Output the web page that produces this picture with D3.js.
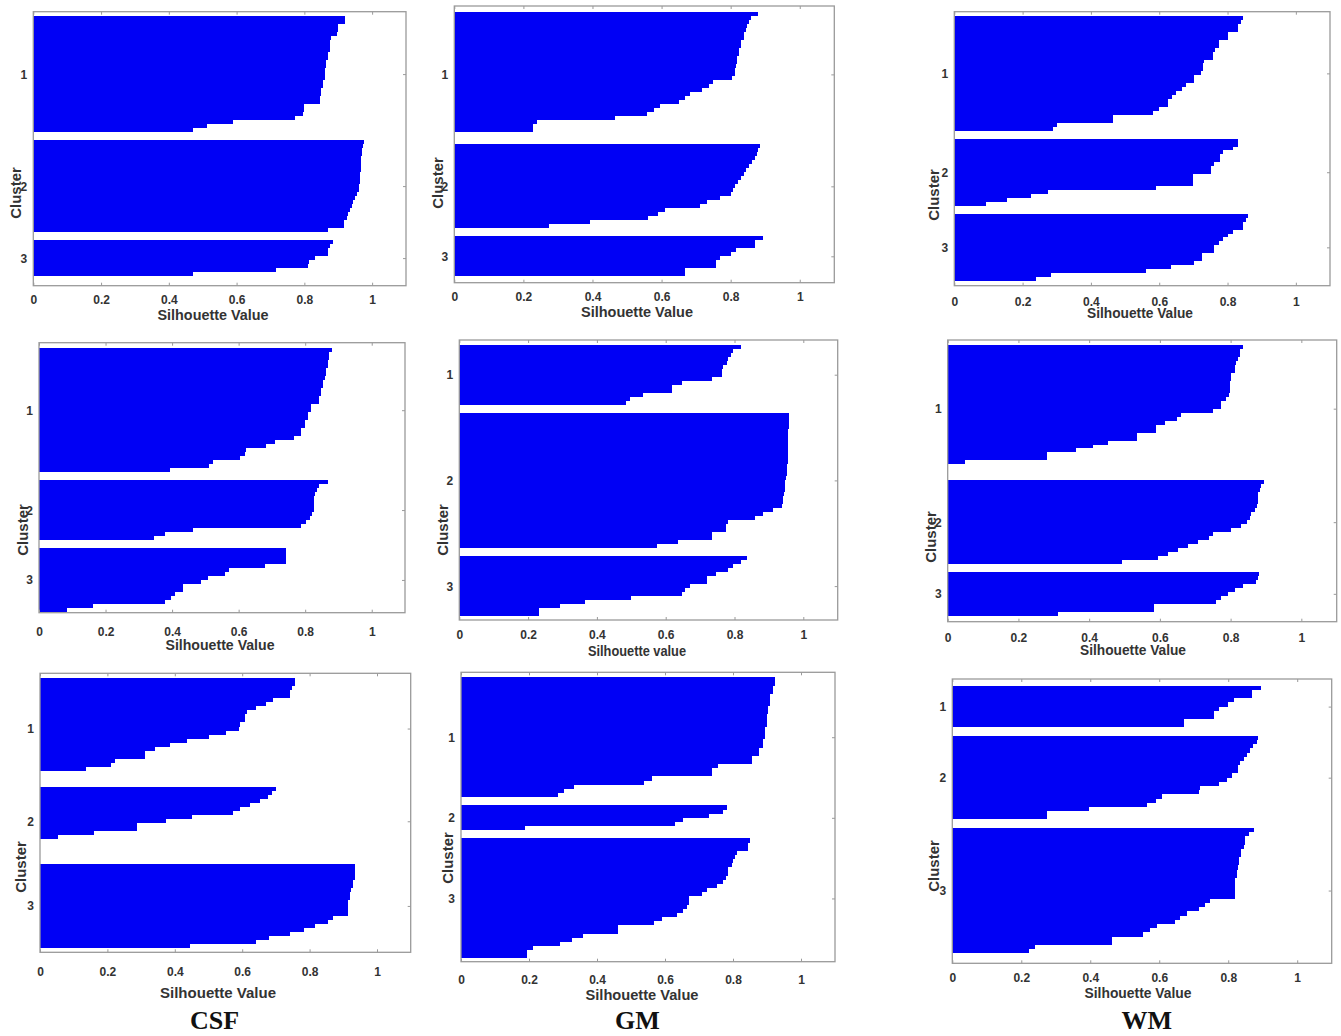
<!DOCTYPE html>
<html>
<head>
<meta charset="utf-8">
<script src="https://cdn.jsdelivr.net/npm/d3@7"></script>
<style>
  body { margin: 0; background: #fff; }
  svg { display: block; }
  text.sans { font-family: "Liberation Sans", Arial, sans-serif; }
</style>
</head>
<body>
<svg id="chart" width="1341" height="1036"></svg>
<script>
// Silhouette values, one entry per sample row, sorted within each cluster.
// Rows of 0 are samples with a near-zero silhouette (they only widen the gap).
const csfTop = [
  [0.92,0.92,0.90,0.90,0.895,0.88,0.877,0.877,0.877,0.87,0.87,0.865,0.865,0.86,0.86,0.86,0.855,0.855,0.85,0.85,0.845,0.845,0.80,0.80,0.795,0.773,0.59,0.514,0.47],
  [0.975,0.972,0.97,0.97,0.968,0.968,0.967,0.966,0.965,0.964,0.963,0.962,0.96,0.955,0.95,0.945,0.94,0.935,0.93,0.925,0.917,0.917,0.87],
  [0.885,0.875,0.87,0.87,0.83,0.815,0.81,0.715,0.47]
];
const gmTop = [
  [0.878,0.86,0.852,0.848,0.845,0.838,0.838,0.83,0.83,0.823,0.823,0.818,0.818,0.815,0.813,0.813,0.804,0.75,0.736,0.717,0.683,0.668,0.65,0.594,0.577,0.557,0.466,0.24,0.229,0.229,0],
  [0.886,0.88,0.875,0.87,0.862,0.852,0.845,0.838,0.83,0.82,0.813,0.806,0.8,0.77,0.731,0.712,0.61,0.591,0.562,0.393,0.274],
  [0.894,0.87,0.87,0.814,0.8,0.77,0.758,0.758,0.668,0.668]
];
const wmTop = [
  [0.846,0.84,0.83,0.83,0.8,0.8,0.776,0.776,0.764,0.757,0.757,0.732,0.727,0.727,0.722,0.703,0.703,0.679,0.667,0.648,0.638,0.625,0.625,0.6,0.581,0.464,0.464,0.3,0.29],
  [0.832,0.832,0.815,0.786,0.778,0.778,0.761,0.752,0.752,0.698,0.698,0.698,0.59,0.275,0.226,0.153,0.094],
  [0.859,0.855,0.844,0.844,0.815,0.8,0.786,0.776,0.761,0.761,0.725,0.725,0.703,0.635,0.562,0.284,0.24]
];
const csfMid = [
  [0.881,0.873,0.873,0.868,0.868,0.863,0.863,0.86,0.855,0.855,0.848,0.848,0.841,0.841,0.818,0.818,0.808,0.808,0.798,0.798,0.788,0.788,0.765,0.708,0.683,0.623,0.618,0.603,0.523,0.51,0.395],
  [0.868,0.843,0.835,0.83,0.828,0.828,0.828,0.828,0.82,0.813,0.803,0.788,0.463,0.38,0.345],
  [0.741,0.741,0.741,0.741,0.68,0.571,0.558,0.508,0.488,0.433,0.433,0.408,0.398,0.38,0.161,0.083]
];
const gmMid = [
  [0.818,0.797,0.789,0.782,0.777,0.767,0.763,0.763,0.734,0.646,0.617,0.617,0.535,0.496,0.486],
  [0.959,0.959,0.959,0.959,0.956,0.956,0.956,0.956,0.956,0.956,0.956,0.956,0.955,0.952,0.952,0.952,0.95,0.947,0.947,0.947,0.945,0.942,0.94,0.937,0.913,0.884,0.86,0.782,0.775,0.775,0.736,0.736,0.637,0.574],
  [0.835,0.82,0.795,0.78,0.746,0.719,0.719,0.67,0.656,0.646,0.498,0.365,0.293,0.232,0.232]
];
const wmMid = [
  [0.835,0.826,0.826,0.821,0.816,0.812,0.812,0.802,0.802,0.798,0.798,0.798,0.795,0.788,0.774,0.774,0.75,0.661,0.647,0.614,0.589,0.589,0.534,0.534,0.454,0.41,0.364,0.28,0.28,0.049,0,0],
  [0.895,0.887,0.882,0.878,0.878,0.878,0.875,0.868,0.859,0.855,0.845,0.83,0.802,0.75,0.74,0.708,0.68,0.652,0.623,0.595,0.494],
  [0.88,0.877,0.873,0.835,0.812,0.793,0.774,0.758,0.584,0.584,0.313]
];
const csfBot = [
  [0.756,0.756,0.749,0.741,0.741,0.69,0.672,0.64,0.613,0.608,0.608,0.593,0.59,0.553,0.502,0.435,0.387,0.341,0.313,0.313,0.222,0.212,0.136,0,0],
  [0.7,0.687,0.677,0.652,0.623,0.593,0.573,0.45,0.374,0.287,0.287,0.16,0.054,0,0,0,0],
  [0.934,0.934,0.934,0.934,0.929,0.929,0.924,0.919,0.919,0.914,0.914,0.914,0.914,0.87,0.855,0.815,0.783,0.741,0.68,0.642,0.445]
];
const gmBot = [
  [0.924,0.924,0.917,0.917,0.909,0.909,0.909,0.904,0.904,0.899,0.899,0.899,0.894,0.894,0.894,0.887,0.887,0.875,0.875,0.855,0.855,0.757,0.737,0.737,0.561,0.538,0.332,0.303,0.286],
  [0.781,0.772,0.73,0.654,0.629,0.188],
  [0.85,0.845,0.845,0.811,0.806,0.801,0.796,0.786,0.786,0.779,0.772,0.752,0.723,0.708,0.672,0.672,0.664,0.654,0.634,0.59,0.568,0.463,0.463,0.36,0.325,0.291,0.213,0.193,0.193]
];
const wmBot = [
  [0.894,0.869,0.869,0.816,0.8,0.773,0.758,0.758,0.671,0.671],
  [0.887,0.882,0.872,0.863,0.855,0.845,0.835,0.829,0.829,0.811,0.797,0.773,0.717,0.714,0.608,0.591,0.564,0.395,0.274,0.274],
  [0.874,0.86,0.85,0.85,0.845,0.837,0.837,0.831,0.831,0.828,0.826,0.826,0.821,0.821,0.821,0.821,0.821,0.748,0.734,0.714,0.681,0.661,0.647,0.593,0.574,0.553,0.463,0.463,0.24,0.221]
];

const xTicks = [0, 0.2, 0.4, 0.6, 0.8, 1];
const clusterLabels = ['1', '2', '3'];
const tissueLabels = ['CSF', 'GM', 'WM'];

const GAP = 2; // empty rows between clusters
const BAR_COLOR = '#0000f5';
const FRAME = '#9a9a9a';

// panel placement (pixels) - each subplot was pasted in at slightly different spots
const panels = [
  { data: csfTop, x0: 33.3, x1: 406, y0: 11.7, y1: 285.7, padTop: 1.1, padBottom: 2.4, tickOff: 14, xlab: [213, 315, 111], ylab: [15, 193], xText: 'Silhouette Value' },
  { data: gmTop, x0: 454.3, x1: 834.3, y0: 6, y1: 282.7, padTop: 1.6, padBottom: 1.6, tickOff: 14, xlab: [637, 312, 112], ylab: [437, 183], xText: 'Silhouette Value' },
  { data: wmTop, x0: 954.3, x1: 1330, y0: 11.7, y1: 285.7, padTop: 1.1, padBottom: 1.2, tickOff: 16, xlab: [1140, 313, 106], ylab: [933, 195], xText: 'Silhouette Value' },
  { data: csfMid, x0: 39, x1: 405, y0: 342.7, y1: 612.7, padTop: 1.4, padBottom: 0.2, tickOff: 19, xlab: [220, 645, 109], ylab: [22, 530], xText: 'Silhouette Value' },
  { data: gmMid, x0: 459.3, x1: 837.7, y0: 340, y1: 620, padTop: 1.2, padBottom: 1.0, tickOff: 15, xlab: [637, 651, 98], ylab: [442, 530], xText: 'Silhouette value' },
  { data: wmMid, x0: 947.7, x1: 1336.7, y0: 340, y1: 621.7, padTop: 1.25, padBottom: 1.5, tickOff: 16, xlab: [1133, 650, 106], ylab: [930, 537], xText: 'Silhouette Value' },
  { data: csfBot, x0: 40, x1: 410.7, y0: 673.3, y1: 952.3, padTop: 1.2, padBottom: 1.0, tickOff: 20, xlab: [218, 993, 116], ylab: [20, 867], xText: 'Silhouette Value' },
  { data: gmBot, x0: 461, x1: 835, y0: 672.3, y1: 961.7, padTop: 1.2, padBottom: 0.8, tickOff: 18, xlab: [642, 995, 113], ylab: [447, 858], xText: 'Silhouette Value' },
  { data: wmBot, x0: 952.3, x1: 1331.7, y0: 679, y1: 963.3, padTop: 1.6, padBottom: 2.4, tickOff: 15, xlab: [1138, 993, 107], ylab: [933, 866], xText: 'Silhouette Value' }
];

const tissuePos = [214.5, 637.5, 1146.7];

const svg = d3.select('#chart');

panels.forEach(drawPanel);

function drawPanel(p) {
  const x = d3.scaleLinear().domain([0, 1.1]).range([p.x0, p.x1]);

  // lay rows out top to bottom, clusters separated by GAP rows
  let idx = 0;
  const rows = [];
  const centers = [];
  p.data.forEach((cl, k) => {
    if (k > 0) idx += GAP;
    const start = idx;
    cl.forEach((v) => { rows.push({ v, i: idx }); idx++; });
    centers.push((start + idx) / 2);
  });

  const y = d3.scaleLinear().domain([-p.padTop, idx + p.padBottom]).range([p.y0, p.y1]);

  const g = svg.append('g');

  g.append('rect')
    .attr('x', p.x0).attr('y', p.y0)
    .attr('width', p.x1 - p.x0).attr('height', p.y1 - p.y0)
    .attr('fill', '#fff');

  // left axis (cluster ticks) under the bars
  const left = g.append('g')
    .attr('transform', `translate(${p.x0},0)`)
    .call(d3.axisLeft(y).tickValues(centers).tickSizeInner(-3).tickSizeOuter(0).tickPadding(6)
      .tickFormat((d, i) => clusterLabels[i]));
  left.select('.domain').remove();
  left.selectAll('line').attr('stroke', FRAME);
  left.selectAll('text')
    .attr('class', 'sans')
    .attr('font-size', 12).attr('font-weight', 'bold').attr('fill', '#333')
    .attr('dy', null).attr('dominant-baseline', 'central');

  // bars
  g.selectAll('rect.bar')
    .data(rows)
    .join('rect')
    .attr('class', 'bar')
    .attr('x', x(0))
    .attr('y', (d) => y(d.i))
    .attr('width', (d) => Math.max(0, x(d.v) - x(0)))
    .attr('height', (d) => y(d.i + 1) - y(d.i))
    .attr('fill', BAR_COLOR)
    .attr('shape-rendering', 'crispEdges');

  // right ticks
  const right = g.append('g')
    .attr('transform', `translate(${p.x1},0)`)
    .call(d3.axisRight(y).tickValues(centers).tickSizeInner(-3).tickSizeOuter(0).tickFormat(''));
  right.select('.domain').remove();
  right.selectAll('line').attr('stroke', FRAME);

  // top ticks
  const top = g.append('g')
    .attr('transform', `translate(0,${p.y0})`)
    .call(d3.axisTop(x).tickValues(xTicks).tickSizeInner(-3).tickSizeOuter(0).tickFormat(''));
  top.select('.domain').remove();
  top.selectAll('line').attr('stroke', FRAME);

  // bottom axis
  const bottom = g.append('g')
    .attr('transform', `translate(0,${p.y1})`)
    .call(d3.axisBottom(x).tickValues(xTicks).tickSizeInner(-3).tickSizeOuter(0).tickFormat(d3.format('~g')));
  bottom.select('.domain').remove();
  bottom.selectAll('line').attr('stroke', FRAME);
  bottom.selectAll('text')
    .attr('class', 'sans')
    .attr('font-size', 12).attr('font-weight', 'bold').attr('fill', '#333')
    .attr('y', p.tickOff).attr('dy', null).attr('dominant-baseline', 'central');

  // frame
  g.append('rect')
    .attr('x', p.x0).attr('y', p.y0)
    .attr('width', p.x1 - p.x0).attr('height', p.y1 - p.y0)
    .attr('fill', 'none').attr('stroke', FRAME).attr('stroke-width', 1.3);

  // axis titles
  g.append('text')
    .attr('class', 'sans')
    .attr('x', p.xlab[0]).attr('y', p.xlab[1])
    .attr('text-anchor', 'middle').attr('dominant-baseline', 'central')
    .attr('font-size', 14).attr('font-weight', 'bold').attr('fill', '#333')
    .attr('textLength', p.xlab[2]).attr('lengthAdjust', 'spacingAndGlyphs')
    .text(p.xText);

  g.append('text')
    .attr('class', 'sans')
    .attr('transform', `translate(${p.ylab[0]},${p.ylab[1]}) rotate(-90)`)
    .attr('text-anchor', 'middle').attr('dominant-baseline', 'central')
    .attr('font-size', 15).attr('font-weight', 'bold').attr('fill', '#333')
    .text('Cluster');
}

// column titles
svg.selectAll('text.tissue')
  .data(tissueLabels)
  .join('text')
  .attr('class', 'tissue')
  .attr('x', (d, i) => tissuePos[i])
  .attr('y', 1029)
  .attr('text-anchor', 'middle')
  .style('font-family', '"Liberation Serif", "Times New Roman", serif')
  .attr('font-size', 26)
  .attr('font-weight', 'bold')
  .attr('fill', '#111')
  .text((d) => d);
</script>
</body>
</html>
